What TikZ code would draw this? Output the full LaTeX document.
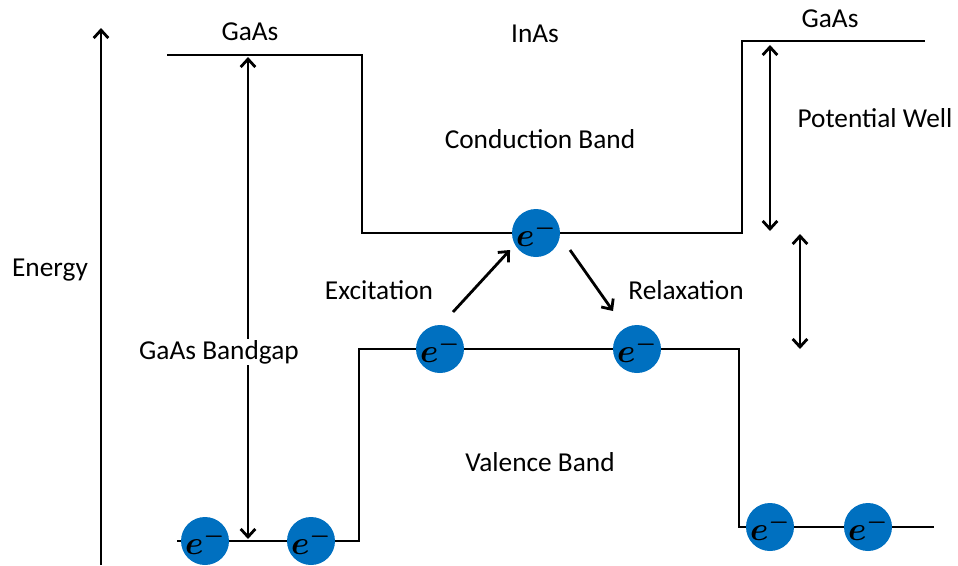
\documentclass[tikz,border=0pt]{standalone}
\usepackage{fontspec}
\setmainfont{Carlito}
\usepackage{tikz}
\usetikzlibrary{arrows.meta,positioning,calc}
\definecolor{eblue}{HTML}{0070C0}

\begin{document}
\begin{tikzpicture}[
  x=0.75pt, y=-0.75pt, >={Straight Barb[length=6pt,width=11pt]},
  font=\fontsize{20.5}{24}\selectfont,
  band/.style={line width=2.2pt, line join=miter},
  arr/.style={line width=2.1pt, ->},
  darr/.style={line width=2.1pt, <->},
  elec/.style={circle, fill=eblue, minimum size=36pt, inner sep=0pt,
    font=\fontsize{27}{30}\selectfont\boldmath},
  lbl/.style={inner sep=1pt}]
\useasboundingbox (0,0) rectangle (958,565);
% energy axis
\coordinate (ax0) at (101,565);
\coordinate (ax1) at (101,28);
\draw[arr] (ax0) -- (ax1);
\node[lbl] (energy) at (50,270) {Energy};
% conduction band
\draw[band] (167,55) -- (362,55) -- (362,233) -- (742,233) -- (742,41) -- (925,41);
% valence band
\draw[band] (177,541) -- (359,541) -- (359,349) -- (739,349) -- (739,527) -- (934,527);
% electrons
\node[elec] (e1) at (205,541) {$e^-$};
\node[elec] (e2) at (311,541) {$e^-$};
\node[elec] (e3) at (440,349) {$e^-$};
\node[elec] (e4) at (637,349) {$e^-$};
\node[elec] (e5) at (536,233) {$e^-$};
\node[elec] (e6) at (770,527) {$e^-$};
\node[elec] (e7) at (868,527) {$e^-$};
% labels
\node[lbl] (gaasL) at (250,32) {GaAs};
\node[lbl] (inas) at (535,34) {InAs};
\node[lbl] (gaasR) at (830,19) {GaAs};
\node[lbl] (cond) at (540,139) {Conduction Band};
\node[lbl] (val) at (540,462) {Valence Band};
\node[lbl] (exc) at (379,290) {Excitation};
\node[lbl] (rel) at (686,290) {Relaxation};
\node[lbl] (well) at (875,118) {Potential Well};
% bandgap arrow
\coordinate (gap0) at (248,57);
\coordinate (gap1) at (248,539);
\draw[darr] (gap0) -- (gap1);
\node[lbl, fill=white] (gap) at (219,352) {GaAs Bandgap};
% well arrows
\coordinate (w0) at (770,45);
\coordinate (w1) at (770,231);
\draw[darr] (w0) -- (w1);
\coordinate (v0) at (800,234);
\coordinate (v1) at (800,349);
\draw[darr] (v0) -- (v1);
% transitions
\draw[arr] ($(e3)+(13,-37)$) -- ($(e5)+(-26,17)$);
\draw[arr] ($(e5)+(34,17)$) -- ($(e4)+(-24,-38)$);
\end{tikzpicture}
\end{document}
